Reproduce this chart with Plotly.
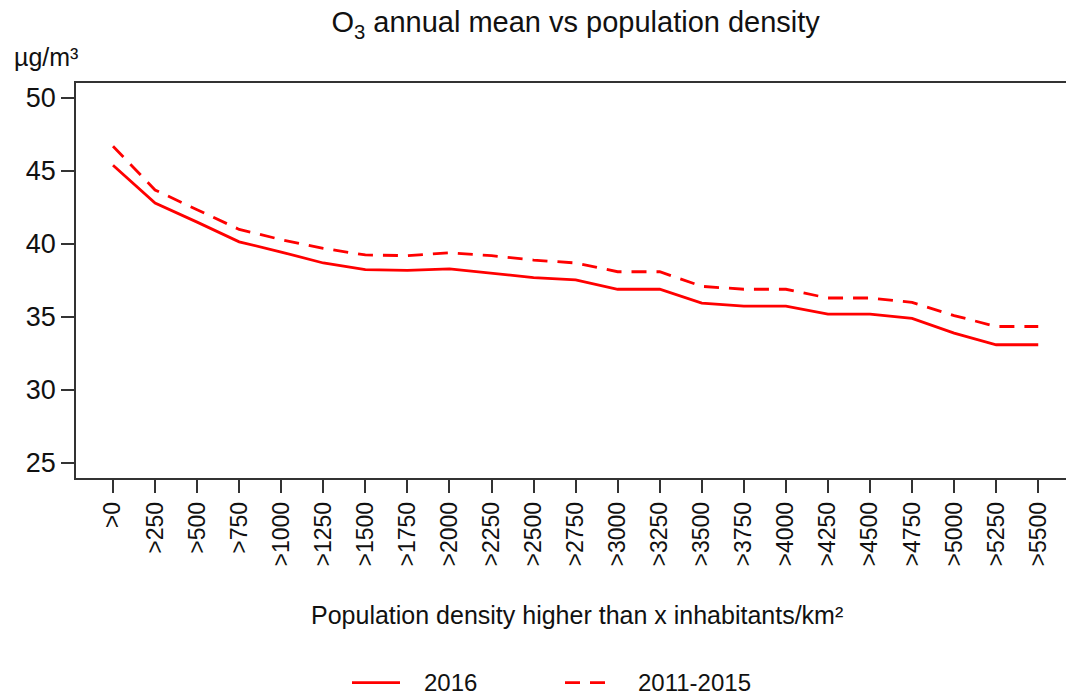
import plotly.graph_objects as go

categories = [">0", ">250", ">500", ">750", ">1000", ">1250", ">1500", ">1750",
              ">2000", ">2250", ">2500", ">2750", ">3000", ">3250", ">3500",
              ">3750", ">4000", ">4250", ">4500", ">4750", ">5000", ">5250", ">5500"]

o3_2016 = [45.4, 42.8, 41.5, 40.15, 39.45, 38.7, 38.25, 38.2, 38.3, 38.0, 37.7,
           37.55, 36.9, 36.9, 35.95, 35.75, 35.75, 35.2, 35.2, 34.9, 33.9, 33.1, 33.1]

o3_2011_2015 = [46.7, 43.7, 42.35, 41.0, 40.3, 39.7, 39.25, 39.2, 39.4, 39.2, 38.9,
                38.7, 38.1, 38.1, 37.1, 36.9, 36.9, 36.3, 36.3, 36.0, 35.1, 34.35, 34.35]

yticks = [25, 30, 35, 40, 45, 50]

series_names = ["2016", "2011-2015"]
series_dash = ["solid", "15px,10px"]

font_family = "Liberation Sans, Arial, sans-serif"
axis_color = "#333333"
text_color = "#111111"
red = "#ff0000"

fig = go.Figure()
for name, values, dash in zip(series_names, [o3_2016, o3_2011_2015], series_dash):
    fig.add_trace(go.Scatter(
        x=list(range(len(categories))), y=values, mode="lines", name=name,
        line=dict(color=red, width=2.8, dash=dash),
    ))

fig.update_xaxes(
    range=[-0.88, 22.66],
    tickvals=list(range(len(categories))),
    ticktext=categories,
    tickangle=-90,
    ticks="outside", ticklen=13, tickwidth=1.5, tickcolor=axis_color,
    showline=True, linecolor=axis_color, linewidth=1.5, mirror=True,
    showgrid=False, zeroline=False, automargin=False,
    tickfont=dict(size=23, color=text_color),
)
fig.update_yaxes(
    range=[23.97, 51.03],
    tickvals=yticks,
    ticks="outside", ticklen=13, tickwidth=1.5, tickcolor=axis_color,
    showline=True, linecolor=axis_color, linewidth=1.5,
    showgrid=False, zeroline=False, automargin=False,
    tickfont=dict(size=27, color=text_color),
)

# hand-drawn legend below the x-axis title
legend_y = -0.518
legend_items = [(352, 400, 422), (565, 605, 636)]  # line start, line end, text x (px)
plot_left, plot_width = 76, 990
shapes = []
annotations = [
    dict(text="µg/m³", xref="paper", yref="paper", x=(12 - plot_left) / plot_width,
         y=1.065, xanchor="left", yanchor="middle", showarrow=False,
         font=dict(size=25, color=text_color)),
    dict(text="Population density higher than x inhabitants/km²",
         xref="paper", yref="paper", x=0.506, y=-0.347,
         xanchor="center", yanchor="middle", showarrow=False,
         font=dict(size=25, color=text_color)),
]
for (x0, x1, xt), name, dash in zip(legend_items, series_names, series_dash):
    shapes.append(dict(
        type="line", xref="paper", yref="paper",
        x0=(x0 - plot_left) / plot_width, x1=(x1 - plot_left) / plot_width,
        y0=legend_y, y1=legend_y,
        line=dict(color=red, width=2.8, dash=dash),
    ))
    annotations.append(dict(
        text=name, xref="paper", yref="paper", x=(xt - plot_left) / plot_width,
        y=legend_y, xanchor="left", yanchor="middle", showarrow=False,
        font=dict(size=24, color=text_color),
    ))

fig.update_layout(
    width=1066, height=697,
    margin=dict(l=76, r=0, t=83, b=219),
    plot_bgcolor="white", paper_bgcolor="white",
    font=dict(family=font_family, color=text_color),
    showlegend=False,
    title=dict(
        text="O<sub>3</sub> annual mean vs population density",
        x=0.54, xanchor="center", y=0.968, yanchor="middle",
        font=dict(size=29, color=text_color),
    ),
    shapes=shapes,
    annotations=annotations,
)

# drop the browser's default page margin so the figure sits at the window origin
fig.write_html(
    "out.html",
    config={"displayModeBar": False},
    post_script="document.body.style.margin = '0';",
)
